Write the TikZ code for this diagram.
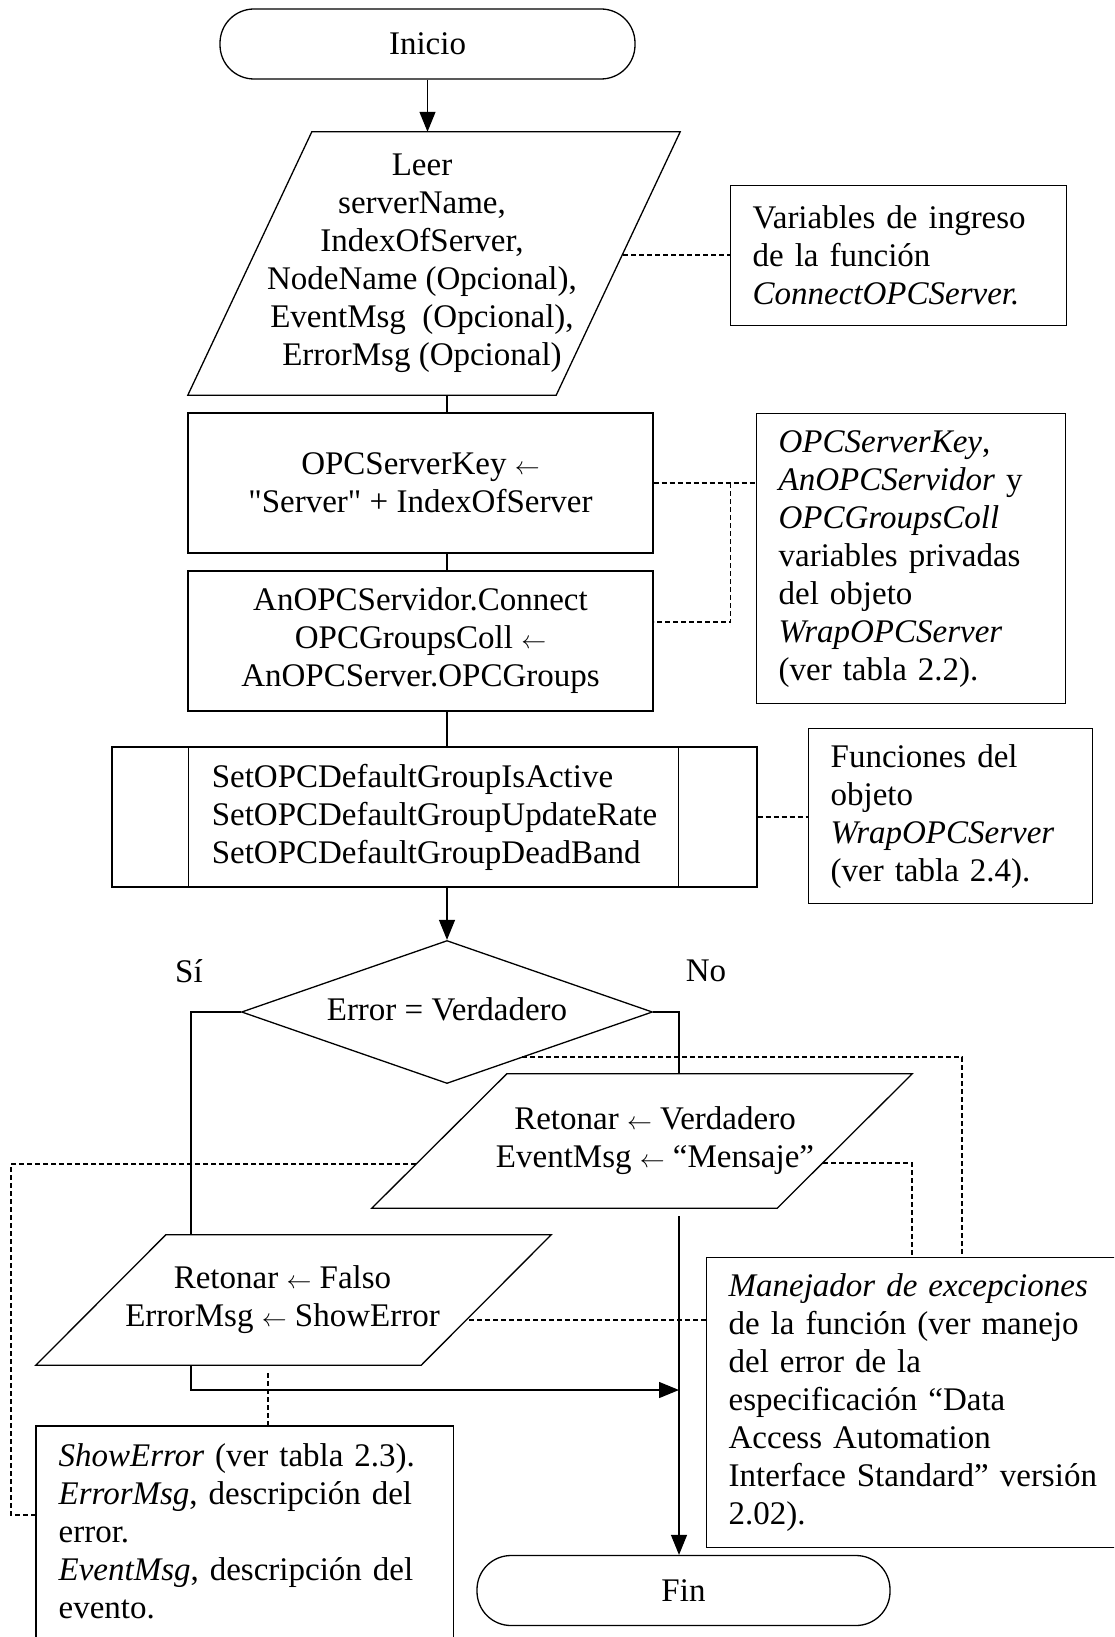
\documentclass[tikz,border=0pt]{standalone}
\usepackage{fontspec}
\setmainfont{Liberation Serif}
\usetikzlibrary{arrows.meta,shapes.geometric,calc}

% assignment arrow (thin, open head)
\newcommand\la{{\fontsize{34}{38}\selectfont$\leftarrow$}}

% parallelogram (input/output) frame around a node:
% #2 = shift of the top edge to the right, #3 = horizontal offset of the frame
\newcommand\ioframe[3]{%
  \draw[line] ($(#1.south west)+(#3,0)$) -- ($(#1.south east)+(#3-#2,0)$)
    -- ($(#1.north east)+(#3,0)$) -- ($(#1.north west)+(#3+#2,0)$) -- cycle;}

\begin{document}
\begin{tikzpicture}[x=1pt,y=-1pt,
  every node/.style={font=\fontsize{33}{38}\selectfont, inner sep=0pt},
  line/.style={line width=1.3pt},
  flow/.style={line, -{Triangle[length=20pt,width=16pt]}},
  note/.style={line width=1.1pt, dash pattern=on 5pt off 3pt},
  terminal/.style={draw, line width=1.3pt, rounded corners=34pt,
    minimum width=#1, minimum height=70pt},
  procbox/.style={draw, line width=1.3pt, align=center,
    minimum width=465pt, minimum height=140pt},
  memo/.style={line width=1.3pt, align=left, inner xsep=22pt,
    inner ysep=0pt, anchor=north west},
]
\useasboundingbox (0,0) rectangle (1114,1637);
\clip (0,0) rectangle (1114,1637);

% ---------- main flow ----------
\node[terminal=415pt] (inicio) at (427.5,44) {Inicio};

\node[minimum width=492pt, minimum height=263pt, align=center] (leer) at (422,263.5)
  {Leer\\serverName,\\IndexOfServer,\\NodeName (Opcional),\\EventMsg\ \ (Opcional),\\ErrorMsg (Opcional)};
\ioframe{leer}{124}{12}

\node[procbox] (key) at (420.5,483)
  {OPCServerKey \la\\\textquotedbl Server\textquotedbl\ + IndexOfServer};
\node[procbox] (conn) at (420.5,641)
  {AnOPCServidor.Connect\\OPCGroupsColl \la\\AnOPCServer.OPCGroups};

\node[draw, line width=1.3pt, align=left, minimum width=645pt, minimum height=140pt]
  (sub) at (434.5,817)
  {SetOPCDefaultGroupIsActive\\SetOPCDefaultGroupUpdateRate\\SetOPCDefaultGroupDeadBand};
\draw[line] ($(sub.north west)+(77,0)$) -- ($(sub.south west)+(77,0)$);
\draw[line] ($(sub.north east)+(-79,0)$) -- ($(sub.south east)+(-79,0)$);

\node[draw, line width=1.3pt, diamond, aspect=2.87, minimum width=411pt,
  minimum height=143pt] (diam) at (447,1012) {\raisebox{5pt}{Error = Verdadero}};

\node (si) at (189,971) {Sí};
\node (no) at (706,971) {No};

\node[minimum width=540pt, minimum height=134pt, align=center] (verd) at (655,1141)
  {Retonar \la\ Verdadero\\EventMsg \la\ “Mensaje”};
\ioframe{verd}{135}{-13}

\node[minimum width=515pt, minimum height=130pt, align=center] (falso) at (282.5,1300)
  {Retonar \la\ Falso\\ErrorMsg \la\ ShowError};
\ioframe{falso}{130}{11}

\node[terminal=413pt] (fin) at (683.5,1590.5) {Fin};

% ---------- comment boxes ----------
\node[memo, draw, text width=292pt, minimum height=140pt] (vars) at (730,185)
  {Variables de ingreso\\de la función\\\textit{ConnectOPCServer.}};
\node[memo, draw, text width=265pt, minimum height=290pt] (privs) at (756,413)
  {\textit{OPCServerKey},\\\textit{AnOPCServidor} y\\\textit{OPCGroupsColl}\\variables privadas\\del objeto\\\textit{WrapOPCServer}\\(ver tabla 2.2).};
\node[memo, draw, text width=240pt, minimum height=175pt] (funcs) at (808,728)
  {Funciones del\\objeto\\\textit{WrapOPCServer}\\(ver tabla 2.4).};
\node[memo, draw, text width=400pt, minimum height=290pt] (manej) at (706,1257)
  {\textit{Manejador de excepciones}\\de la función (ver manejo\\del error de la\\especificación “Data\\Access Automation\\Interface Standard” versión\\2.02).};
\node[memo, inner ysep=17pt, text width=372pt] (errnote) at (36,1426)
  {\textit{ShowError} (ver tabla 2.3).\\\textit{ErrorMsg}, descripción del\\error.\\\textit{EventMsg}, descripción del\\evento.};
\draw[line] ($(errnote.south west)+(0,60)$) |- (errnote.north east)
  -- ($(errnote.south east)+(0,60)$);

% ---------- bends and attachment points ----------
\coordinate (yesbend) at (191,1012);
\coordinate (nobend) at (679,1012);
\coordinate (join) at (679,1390);
\coordinate (leerR) at (623,255);
\coordinate (verdL) at (416,1164);
\coordinate (verdR) at (823,1163);
\coordinate (diamR) at (522,1057);
\coordinate (falsoR) at (469,1320);
\coordinate (leftrun) at (11,1164);
\coordinate (errlink) at (268,1373);

% ---------- connectors ----------
\draw[flow] (inicio.south) -- (inicio.south |- leer.north);
\draw[line] (leer.south -| diam.north) -- (key.north -| diam.north);
\draw[line] (key.south -| diam.north) -- (conn.north -| diam.north);
\draw[line] (conn.south -| diam.north) -- (sub.north -| diam.north);
\draw[flow] (sub.south -| diam.north) -- (diam.north);
\draw[line] (diam.west) -- (yesbend) -- (yesbend |- falso.north);
\draw[line] (diam.east) -- (nobend) -- (nobend |- verd.north);
\draw[flow] ($(nobend |- verd.south)+(0,8)$) -- (nobend |- fin.north);
\draw[flow] (yesbend |- falso.south) |- (join);

% ---------- dashed annotation links ----------
\draw[note] (leerR) -- (vars.west |- leerR);
\draw[note] (key.east) -- (privs.west |- key.east);
\draw[note] ($(key.east)+(77,0)$) |- ($(conn.east)+(0,-19)$);
\draw[note] (sub.east) -- (funcs.west |- sub.east);
\draw[note] (verdL) -- (leftrun) |- ($(errnote.north west)+(0,89)$);
\draw[note] (verdR) -| ($(manej.north west)+(206,0)$);
\draw[note] (diamR) -| ($(manej.north west)+(256,0)$);
\draw[note] (falsoR) -- (manej.west |- falsoR);
\draw[note] (errlink) -- (errlink |- errnote.north);
\end{tikzpicture}
\end{document}
